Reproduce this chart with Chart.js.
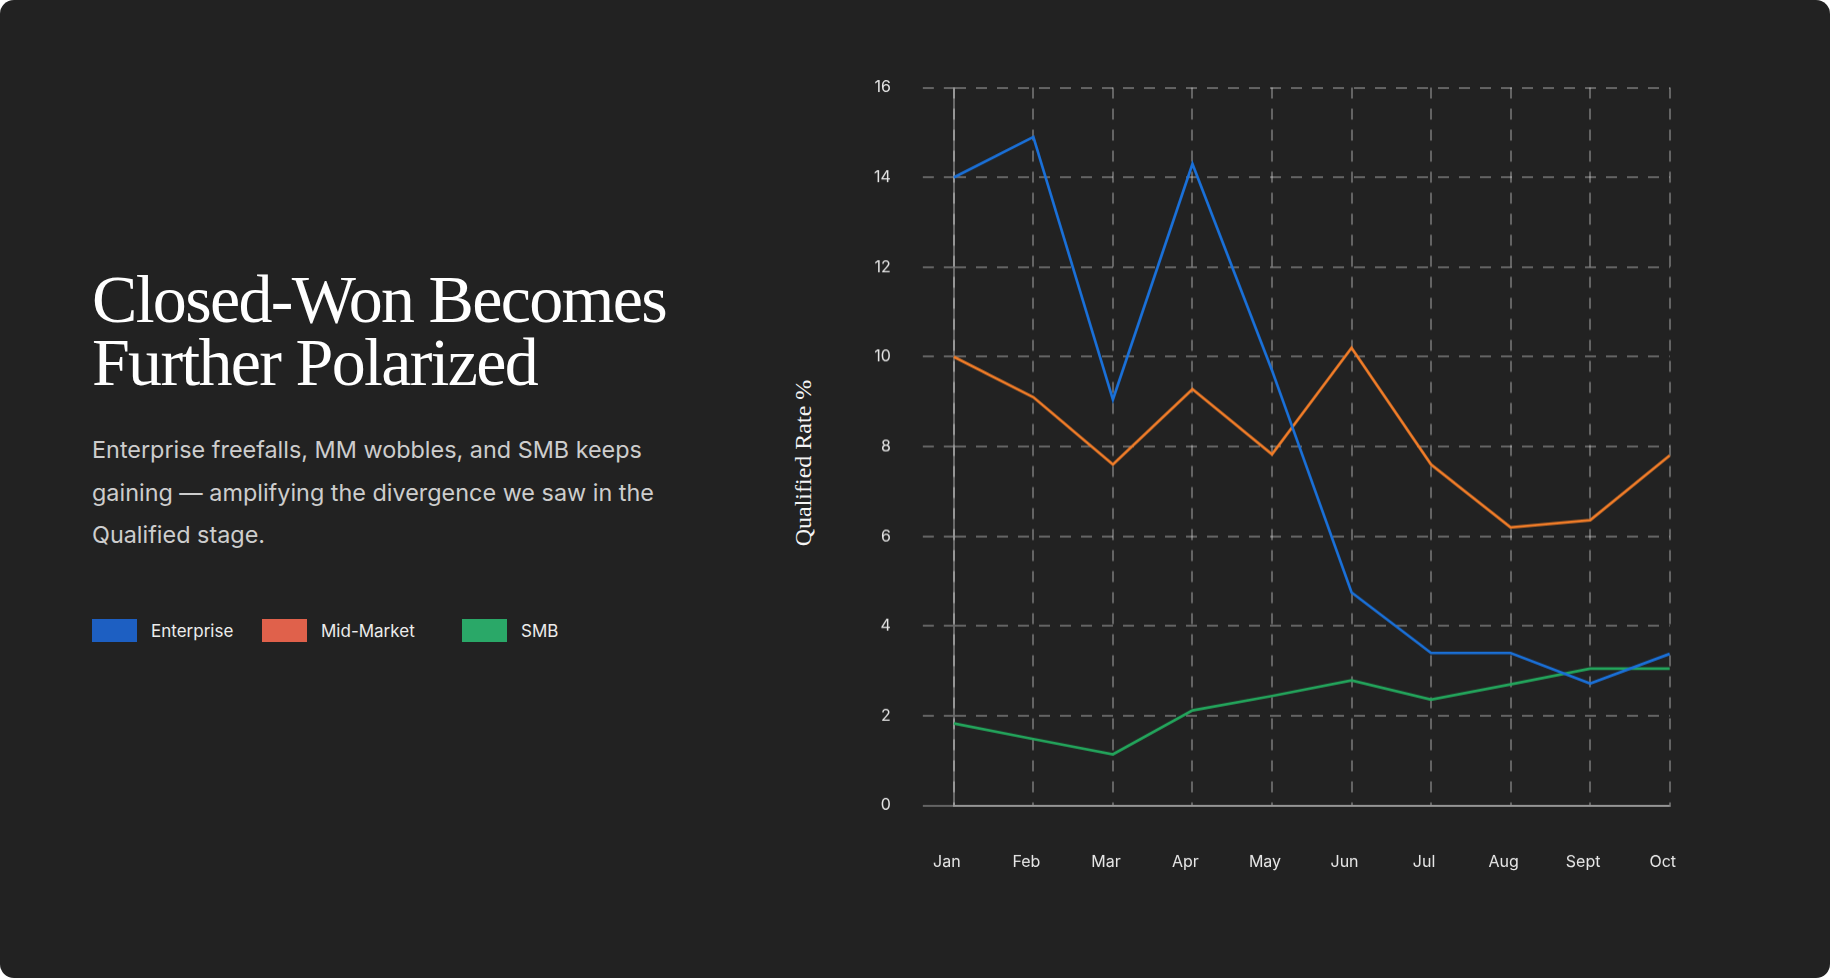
<!DOCTYPE html>
<html>
<head>
<meta charset="utf-8">
<script src="https://cdn.jsdelivr.net/npm/chart.js@4.4.1/dist/chart.umd.min.js"></script>
<style>
  html, body { margin: 0; padding: 0; background: #ffffff; }
  .card {
    position: relative;
    width: 1830px;
    height: 978px;
    background: #222222;
    border-radius: 14px;
    overflow: hidden;
  }
  h1 {
    position: absolute;
    left: 92px;
    top: 268px;
    margin: 0;
    font-family: "Liberation Serif", "DejaVu Serif", serif;
    font-weight: 400;
    font-size: 68px;
    line-height: 63px;
    letter-spacing: -1.7px;
    color: #ffffff;
  }
  .sub {
    position: absolute;
    left: 92px;
    top: 429px;
    width: 585px;
    margin: 0;
    font-family: Inter, "Noto Sans", sans-serif;
    font-size: 23.4px;
    line-height: 42.5px;
    color: #cdcdcd;
  }
  .legend {
    position: absolute;
    left: 92px;
    top: 619px;
    height: 23px;
    font-family: Inter, "Noto Sans", sans-serif;
    font-size: 17px;
    color: #ececec;
  }
  .legend .item { position: absolute; top: 0; white-space: nowrap; }
  .legend .sw { position: absolute; left: 0; top: 0; width: 45px; height: 23px; }
  .legend .lbl { position: absolute; left: 59px; top: 1px; line-height: 22px; }
  .y-title {
    position: absolute;
    left: 803px;
    top: 463px;
    transform: translate(-50%, -50%) rotate(-90deg);
    font-family: "Liberation Serif", "DejaVu Serif", serif;
    font-size: 24px;
    color: #f4f4f4;
    white-space: nowrap;
  }
  .chart-box {
    position: absolute;
    left: 842px;
    top: 46.4px;
    width: 888px;
    height: 871.8px;
  }
</style>
</head>
<body>
<div class="card">
  <h1>Closed-Won Becomes<br>Further Polarized</h1>
  <p class="sub">Enterprise freefalls, MM wobbles, and SMB keeps gaining — amplifying the divergence we saw in the Qualified stage.</p>
  <div class="legend" id="legend"></div>
  <div class="y-title">Qualified Rate %</div>
  <div class="chart-box"><canvas id="closedWonChart"></canvas></div>
</div>
<script>
// Months on the x axis
const months = ['Jan', 'Feb', 'Mar', 'Apr', 'May', 'Jun', 'Jul', 'Aug', 'Sept', 'Oct'];

// Closed-won rate per segment
const enterprise = [14.0, 14.9, 9.05, 14.3, 9.7, 4.75, 3.4, 3.4, 2.72, 3.38];
const midMarket = [10.0, 9.1, 7.6, 9.28, 7.83, 10.2, 7.6, 6.2, 6.36, 7.8];
const smb = [1.83, 1.48, 1.14, 2.12, 2.44, 2.79, 2.36, 2.7, 3.05, 3.05];

// y axis ticks
const yTicks = [0, 2, 4, 6, 8, 10, 12, 14, 16];

const seriesNames = ['Enterprise', 'Mid-Market', 'SMB'];
const lineColors = ['#1a70d8', '#f07c28', '#23a65c'];
const swatchColors = ['#1d5fc2', '#e0614b', '#2aa868'];

// legend (custom, to the left of the chart)
const legendEl = document.getElementById('legend');
const legendOffsets = [0, 170, 370];
seriesNames.forEach((name, i) => {
  const item = document.createElement('div');
  item.className = 'item';
  item.style.left = legendOffsets[i] + 'px';
  item.innerHTML = '<span class="sw" style="background:' + swatchColors[i] + '"></span><span class="lbl">' + name + '</span>';
  legendEl.appendChild(item);
});

const gridColor = 'rgba(255, 255, 255, 0.3)';
const axisColor = 'rgba(255, 255, 255, 0.32)';
const dash = [11, 10];
// the zero line is drawn solid, the rest dashed
const dashUnlessZero = (c) => (c.tick && c.tick.value === 0 ? [] : dash);

const ctx = document.getElementById('closedWonChart').getContext('2d');
new Chart(ctx, {
  type: 'line',
  data: {
    labels: months,
    datasets: [enterprise, midMarket, smb].map((values, i) => ({
      label: seriesNames[i],
      data: values,
      borderColor: lineColors[i],
      backgroundColor: lineColors[i],
      borderWidth: 2.7,
      pointRadius: 0,
      tension: 0,
      fill: false
    }))
  },
  options: {
    responsive: true,
    maintainAspectRatio: false,
    animation: false,
    layout: { padding: 0 },
    plugins: {
      legend: { display: false },
      tooltip: { enabled: false }
    },
    scales: {
      x: {
        offset: false,
        grid: {
          color: gridColor,
          lineWidth: 2,
          drawTicks: false
        },
        border: { display: true, color: axisColor, width: 2, dash: dash },
        ticks: {
          color: '#e6e6e6',
          font: { family: 'Inter', size: 16 },
          padding: 47,
          labelOffset: -7,
          maxRotation: 0,
          autoSkip: false
        }
      },
      y: {
        min: 0,
        max: 16,
        afterBuildTicks: (axis) => { axis.ticks = yTicks.map(v => ({ value: v })); },
        grid: {
          color: gridColor,
          lineWidth: 2,
          drawTicks: true,
          tickLength: 31,
          tickColor: gridColor,
          tickWidth: 2,
          tickBorderDash: dashUnlessZero
        },
        border: { display: true, color: axisColor, width: 2, dash: dashUnlessZero },
        ticks: {
          color: '#e6e6e6',
          font: { family: 'Inter', size: 16 },
          padding: 32
        }
      }
    }
  }
});
</script>
</body>
</html>
